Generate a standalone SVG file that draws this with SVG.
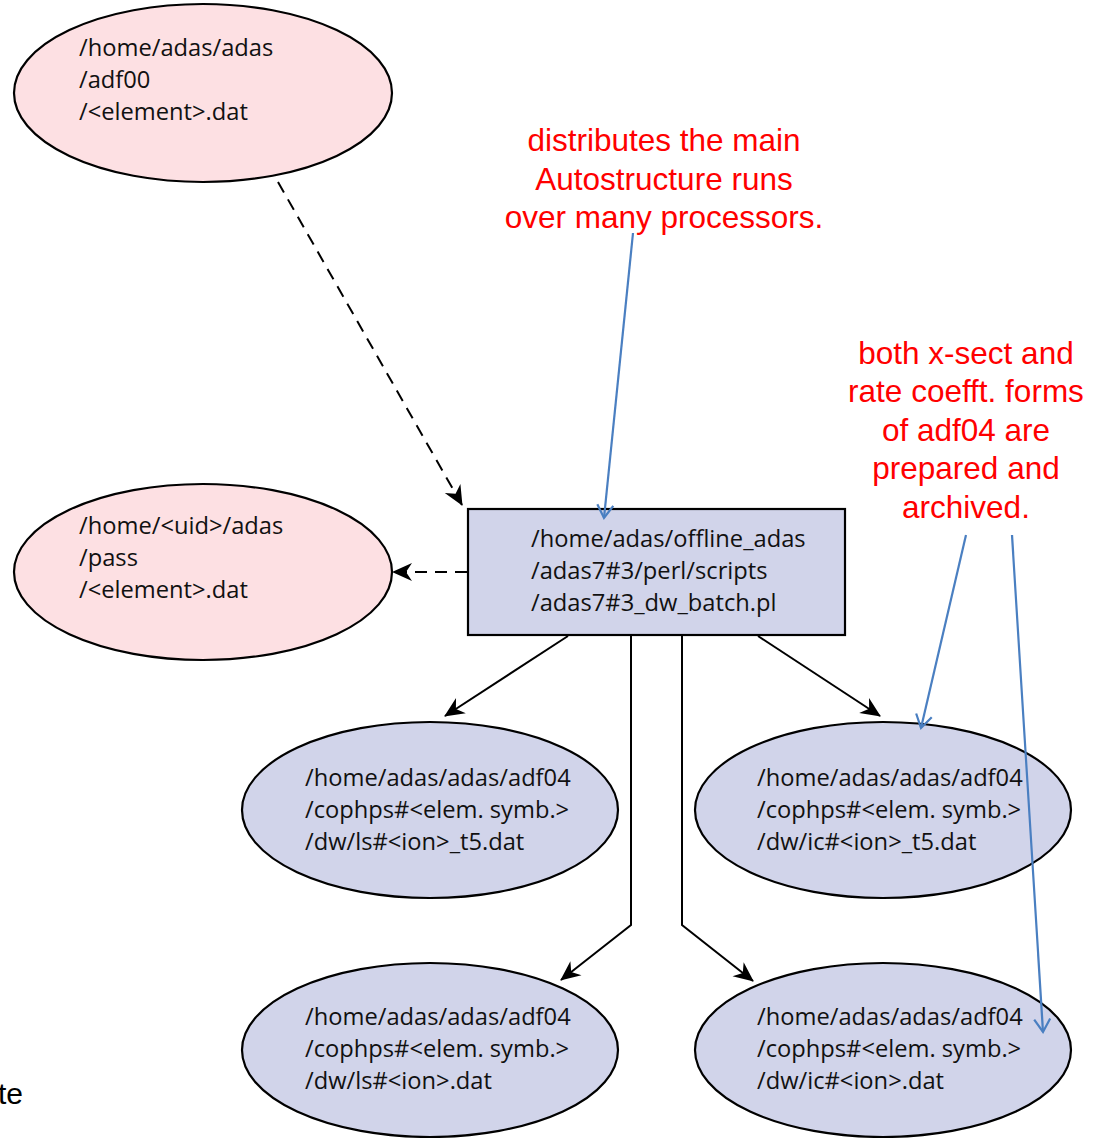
<svg xmlns="http://www.w3.org/2000/svg" width="1101" height="1138" viewBox="0 0 1101 1138">
<style>
.pink{fill:#fde0e3;stroke:#000;stroke-width:2.2}
.blue{fill:#d1d4ea;stroke:#000;stroke-width:2.2}
.nt{font-family:"Open Sans","Noto Sans",sans-serif;font-size:23.7px;fill:#111}
.red{font-family:"Liberation Sans",Arial,sans-serif;font-size:31.5px;fill:#ff0000;text-anchor:middle}
.con{fill:none;stroke:#000;stroke-width:2}
.dash{stroke-dasharray:12,8}
.ann{fill:none;stroke:#4a7fc1;stroke-width:2.2}
</style>
<defs>
<marker id="ah" markerWidth="22" markerHeight="20" refX="19" refY="9" markerUnits="userSpaceOnUse" orient="auto" overflow="visible">
<path d="M0,0 L20,9 L0,18 L6,9 z" fill="#000"/>
</marker>
<marker id="open" markerWidth="20" markerHeight="22" refX="15" refY="10" markerUnits="userSpaceOnUse" orient="auto" overflow="visible">
<path d="M2,2 L15,10 L2,18" fill="none" stroke="#4a7fc1" stroke-width="2.2"/>
</marker>
</defs>
<g id="n1"><ellipse class="pink" cx="203" cy="93" rx="189" ry="89"/>
<text class="nt" x="79" y="56">/home/adas/adas</text><text class="nt" x="79" y="88">/adf00</text><text class="nt" x="79" y="120">/&lt;element&gt;.dat</text></g>
<g id="n2"><ellipse class="pink" cx="203" cy="572" rx="189" ry="88"/>
<text class="nt" x="79" y="534">/home/&lt;uid&gt;/adas</text><text class="nt" x="79" y="566">/pass</text><text class="nt" x="79" y="598">/&lt;element&gt;.dat</text></g>
<g id="n3"><rect class="blue" x="468" y="509" width="377" height="126"/>
<text class="nt" x="531" y="547">/home/adas/offline_adas</text><text class="nt" x="531" y="579">/adas7#3/perl/scripts</text><text class="nt" x="531" y="611">/adas7#3_dw_batch.pl</text></g>
<g id="n4"><ellipse class="blue" cx="430" cy="810" rx="188" ry="88"/>
<text class="nt" x="305" y="786">/home/adas/adas/adf04</text><text class="nt" x="305" y="818">/cophps#&lt;elem. symb.&gt;</text><text class="nt" x="305" y="850">/dw/ls#&lt;ion&gt;_t5.dat</text></g>
<g id="n5"><ellipse class="blue" cx="883" cy="810" rx="188" ry="88"/>
<text class="nt" x="757" y="786">/home/adas/adas/adf04</text><text class="nt" x="757" y="818">/cophps#&lt;elem. symb.&gt;</text><text class="nt" x="757" y="850">/dw/ic#&lt;ion&gt;_t5.dat</text></g>
<g id="n6"><ellipse class="blue" cx="430" cy="1050" rx="188" ry="87"/>
<text class="nt" x="305" y="1025">/home/adas/adas/adf04</text><text class="nt" x="305" y="1057">/cophps#&lt;elem. symb.&gt;</text><text class="nt" x="305" y="1089">/dw/ls#&lt;ion&gt;.dat</text></g>
<g id="n7"><ellipse class="blue" cx="883" cy="1050" rx="188" ry="87"/>
<text class="nt" x="757" y="1025">/home/adas/adas/adf04</text><text class="nt" x="757" y="1057">/cophps#&lt;elem. symb.&gt;</text><text class="nt" x="757" y="1089">/dw/ic#&lt;ion&gt;.dat</text></g>
<g id="connectors">
<path class="con dash" d="M278,182 L462,505" marker-end="url(#ah)"/>
<path class="con dash" d="M467,572 L393,572" marker-end="url(#ah)"/>
<path class="con" d="M568,636 L445,716" marker-end="url(#ah)"/>
<path class="con" d="M758,636 L880,716" marker-end="url(#ah)"/>
<path class="con" d="M631,636 L631,925 L561,980" marker-end="url(#ah)"/>
<path class="con" d="M682,636 L682,925 L753,981" marker-end="url(#ah)"/>
</g>
<g id="annotations">
<text class="red" x="664" y="151">distributes the main</text>
<text class="red" x="664" y="190">Autostructure runs</text>
<text class="red" x="664" y="228">over many processors.</text>
<text class="red" x="966" y="364">both x-sect and</text>
<text class="red" x="966" y="402">rate coefft. forms</text>
<text class="red" x="966" y="441">of adf04 are</text>
<text class="red" x="966" y="479">prepared and</text>
<text class="red" x="966" y="518">archived.</text>
<path class="ann" d="M633,233 L604,518" marker-end="url(#open)"/>
<path class="ann" d="M966,535 L921,728" marker-end="url(#open)"/>
<path class="ann" d="M1012,535 L1043,1032" marker-end="url(#open)"/>
<text x="-2" y="1104" font-family="Liberation Sans, Arial, sans-serif" font-size="30" fill="#000">te</text>
</g>
</svg>
